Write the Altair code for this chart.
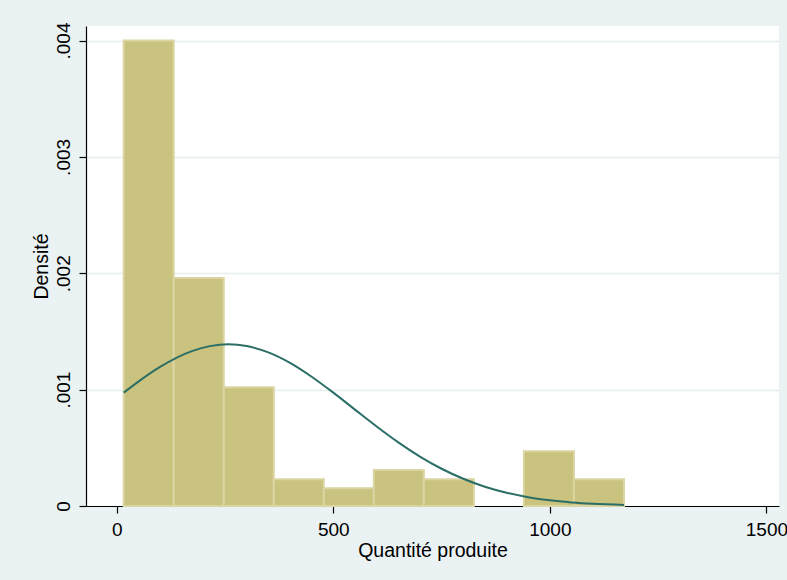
import altair as alt
import pandas as pd

# Histogram bins (lower edge, upper edge) and their densities
bin_start = [16, 131.5, 247, 362.5, 478, 593.5, 709, 824.5, 940, 1055.5]
bin_end = [131.5, 247, 362.5, 478, 593.5, 709, 824.5, 940, 1055.5, 1171]
density = [0.00400, 0.00196, 0.00102, 0.000229, 0.000152, 0.000309, 0.000229, 0.0, 0.00047, 0.000229]

# Normal density overlay, sampled along the data range
curve_x = [16, 50, 100, 175, 215, 258, 300, 350, 400, 450, 500, 550, 600, 650,
           700, 750, 800, 850, 900, 950, 1000, 1050, 1100, 1171]
curve_y = [0.000974, 0.001069, 0.001195, 0.001333, 0.001374, 0.001390, 0.001375,
           0.001320, 0.001230, 0.001111, 0.000974, 0.000828, 0.000683, 0.000547,
           0.000425, 0.000320, 0.000234, 0.000166, 0.000114, 0.000076, 0.000049,
           0.000031, 0.000019, 0.000009]

x_ticks = [0, 500, 1000, 1500]
y_ticks = [0, 0.001, 0.002, 0.003, 0.004]

bins = pd.DataFrame({"start": bin_start, "end": bin_end, "density": density})
curve = pd.DataFrame({"x": curve_x, "d": curve_y})

FONT = "Liberation Sans"
LABEL_FS = 19
TITLE_FS = 19.5

x_scale = alt.Scale(domain=[-71, 1529], nice=False, zero=False)
y_scale = alt.Scale(domain=[0, 0.004125], nice=False)

x_axis = alt.Axis(
    values=x_ticks, grid=False, title="Quantité produite", format="d",
    labelFlush=False, labelOverlap=False, labelBound=False,
    tickSize=7, labelPadding=7, titlePadding=2,
)
y_axis = alt.Axis(
    values=y_ticks, grid=True, title="Densité",
    labelExpr="datum.value == 0 ? '0' : '.' + substring(format(datum.value, '.3f'), 2)",
    labelAngle=270, labelAlign="center", labelBaseline="bottom",
    labelOverlap=False, labelFlush=False,
    tickSize=7, labelPadding=6, titlePadding=3,
)

bars = alt.Chart(bins).transform_filter("datum.density > 0").mark_rect(
    fill="#CAC27F", stroke="#DAD5A2", strokeWidth=2
).encode(
    x=alt.X("start:Q", scale=x_scale, axis=x_axis),
    x2="end:Q",
    y=alt.Y("density:Q", scale=y_scale, axis=y_axis),
    y2=alt.datum(0),
)

line = alt.Chart(curve).mark_line(
    color="#2B6E66", strokeWidth=2, interpolate="monotone"
).encode(
    x=alt.X("x:Q", scale=x_scale),
    y=alt.Y("d:Q", scale=y_scale),
)

chart = alt.layer(bars, line).properties(
    width=693,
    height=480,
    padding={"left": 86, "top": 26, "right": 8, "bottom": 74},
    autosize=alt.AutoSizeParams(type="none"),
    background="#EAF2F3",
).configure_view(
    fill="white", stroke=None
).configure_axis(
    labelFont=FONT, titleFont=FONT, labelFontSize=LABEL_FS, titleFontSize=TITLE_FS,
    labelColor="black", titleColor="black", titleFontWeight="normal",
    domainColor="black", domainWidth=1.2, tickColor="black", tickWidth=1.2,
    gridColor="#E6EEF0", gridWidth=1.5,
)

chart.save("out.html", embed_options={"renderer": "svg", "actions": False})
